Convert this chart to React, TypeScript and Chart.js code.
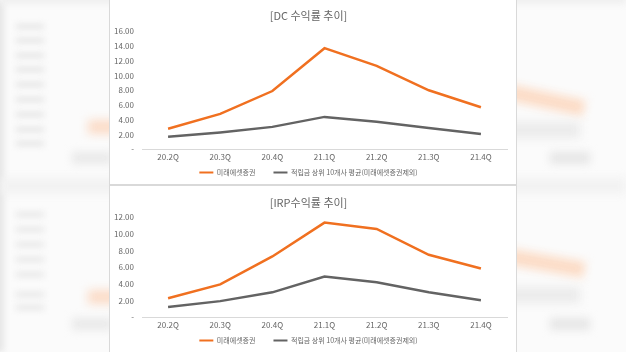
import React, { useEffect, useRef } from "react";
import { Chart, registerables } from "chart.js";

Chart.register(...registerables);

const categories = ["20.2Q", "20.3Q", "20.4Q", "21.1Q", "21.2Q", "21.3Q", "21.4Q"];
const seriesNames = ["미래에셋증권", "적립금 상위 10개사 평균(미래에셋증권제외)"];
const dcTitle = "[DC 수익률 추이]";
const irpTitle = "[IRP수익률 추이]";
const dcMirae = [2.8, 4.8, 7.9, 13.7, 11.3, 8.0, 5.7];
const dcTop10 = [1.7, 2.3, 3.05, 4.4, 3.75, 2.9, 2.1];
const irpMirae = [2.3, 3.95, 7.3, 11.35, 10.6, 7.5, 5.85];
const irpTop10 = [1.25, 1.95, 3.0, 4.9, 4.2, 3.0, 2.05];
const dcYMax = 16;
const irpYMax = 12;
const yStep = 2;

const ORANGE = "#F07020";
const GREY = "#636363";
const TEXT = "#666666";
const FONT = "'Noto Sans CJK KR', 'Noto Sans', sans-serif";

type Props = {
  title: string;
  a: number[];
  b: number[];
  max: number;
  width: number;
  height: number;
  titleTop: number;
  titleBottom: number;
  bottomPad: number;
};

function LineChart(p: Props) {
  const ref = useRef<HTMLCanvasElement>(null);
  useEffect(() => {
    const chart = new Chart(ref.current!, {
      type: "line",
      data: {
        labels: categories,
        datasets: [
          {
            label: seriesNames[0],
            data: p.a,
            borderColor: ORANGE,
            backgroundColor: ORANGE,
            borderWidth: 2.5,
            pointRadius: 0,
            tension: 0,
          },
          {
            label: seriesNames[1],
            data: p.b,
            borderColor: GREY,
            backgroundColor: GREY,
            borderWidth: 2.5,
            pointRadius: 0,
            tension: 0,
          },
        ],
      },
      options: {
        responsive: false,
        animation: false,
        devicePixelRatio: 1,
        layout: { padding: { left: 0, right: 9, top: 0, bottom: p.bottomPad } },
        plugins: {
          title: {
            display: true,
            text: p.title,
            color: TEXT,
            font: { family: FONT, size: 11, weight: "normal" },
            padding: { top: p.titleTop, bottom: p.titleBottom },
          },
          legend: {
            position: "bottom",
            labels: {
              boxWidth: 14,
              boxHeight: 2,
              padding: 4,
              color: TEXT,
              font: { family: FONT, size: 7 },
              generateLabels: (c: any) => {
                const items = Chart.defaults.plugins.legend.labels.generateLabels(c);
                items.forEach((it: any, i: number) => {
                  it.lineWidth = 0;
                  if (i === 0) it.text = it.text + "\u2003\u2003";
                });
                return items;
              },
            },
          },
          tooltip: { enabled: false },
        },
        scales: {
          x: {
            offset: true,
            grid: { display: false, drawTicks: false },
            border: { display: true, color: "#d9d9d9", width: 1 },
            ticks: {
              color: TEXT,
              font: { family: FONT, size: 8 },
              padding: 3,
              maxRotation: 0,
            },
          },
          y: {
            min: 0,
            max: p.max,
            grid: { display: false, drawTicks: false },
            border: { display: false },
            ticks: {
              stepSize: yStep,
              color: TEXT,
              font: { family: FONT, size: 8 },
              padding: 8,
              callback: (v: any) => (Number(v) === 0 ? "-" : Number(v).toFixed(2)),
            },
            afterFit: (s: any) => {
              s.width = 32;
            },
          },
        },
      },
    } as any);
    return () => chart.destroy();
  }, []);
  return <canvas ref={ref} width={p.width} height={p.height} style={{ display: "block" }} />;
}

function Blur(props: { x: number; y: number; w: number; h: number; c: string; r?: number; b?: number }) {
  return (
    <div
      style={{
        position: "absolute",
        left: props.x,
        top: props.y,
        width: props.w,
        height: props.h,
        background: props.c,
        filter: `blur(${props.b ?? 6}px)`,
        transform: props.r ? `rotate(${props.r}deg)` : undefined,
      }}
    />
  );
}

export default function App() {
  return (
    <div
      style={{
        position: "fixed",
        left: 0,
        top: 0,
        width: 626,
        height: 352,
        overflow: "hidden",
        background: "#fbfbfb",
      }}
    >
      <Blur x={-6} y={0} w={10} h={352} c="#e6e6e6" b={3} />
      <Blur x={0} y={-6} w={626} h={10} c="#efefef" b={3} />
      <Blur x={0} y={178} w={626} h={16} c="#f2f2f2" b={4} />
      {[24, 38, 53, 67, 82, 97, 112, 127, 141].map((y) => (
        <Blur key={"l" + y} x={16} y={y} w={28} h={5} c="#e4e4e4" b={3} />
      ))}
      {[212, 227, 242, 257, 272, 292, 305].map((y) => (
        <Blur key={"m" + y} x={16} y={y} w={28} h={5} c="#e6e6e6" b={3} />
      ))}
      <Blur x={88} y={120} w={30} h={14} c="#fbdcc8" b={5} />
      <Blur x={72} y={152} w={40} h={12} c="#e9e9e9" b={4} />
      <Blur x={88} y={290} w={30} h={14} c="#fbdcc8" b={5} />
      <Blur x={72} y={318} w={40} h={12} c="#e9e9e9" b={4} />
      <Blur x={505} y={92} w={80} h={16} c="#fcdcc6" r={12} b={5} />
      <Blur x={505} y={122} w={75} h={16} c="#ebebeb" b={5} />
      <Blur x={550} y={152} w={40} h={12} c="#e6e6e6" b={4} />
      <Blur x={505} y={255} w={80} h={16} c="#fcdcc6" r={10} b={5} />
      <Blur x={505} y={287} w={75} h={16} c="#ebebeb" b={5} />
      <Blur x={550} y={318} w={40} h={12} c="#e6e6e6" b={4} />

      <div
        style={{
          position: "absolute",
          left: 109,
          top: -1,
          width: 406,
          height: 184,
          background: "#ffffff",
          border: "1px solid #d9d9d9",
          overflow: "hidden",
        }}
      >
        <LineChart
          title={dcTitle}
          a={dcMirae}
          b={dcTop10}
          max={dcYMax}
          width={406}
          height={188}
          titleTop={9}
          titleBottom={9}
          bottomPad={2}
        />
      </div>
      <div
        style={{
          position: "absolute",
          left: 109,
          top: 185,
          width: 406,
          height: 172,
          background: "#ffffff",
          border: "1px solid #d9d9d9",
          overflow: "hidden",
        }}
      >
        <LineChart
          title={irpTitle}
          a={irpMirae}
          b={irpTop10}
          max={irpYMax}
          width={406}
          height={170}
          titleTop={10}
          titleBottom={8}
          bottomPad={2}
        />
      </div>
    </div>
  );
}
